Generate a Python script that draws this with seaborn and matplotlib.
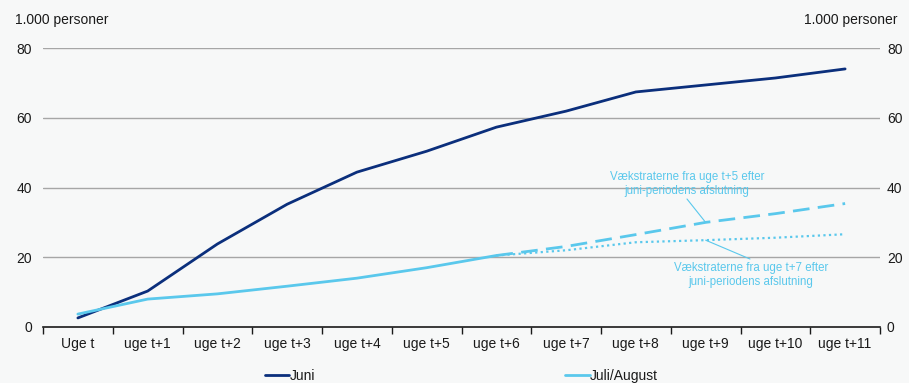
import matplotlib
matplotlib.use("Agg")
import matplotlib.pyplot as plt
import seaborn as sns
import pandas as pd
import numpy as np

categories = ["Uge t", "uge t+1", "uge t+2", "uge t+3", "uge t+4", "uge t+5",
              "uge t+6", "uge t+7", "uge t+8", "uge t+9", "uge t+10", "uge t+11"]
juni = [2.6, 10.3, 23.8, 35.2, 44.4, 50.4, 57.3, 61.9, 67.4, 69.4, 71.4, 74.0]
juli_aug = [3.7, 8.0, 9.5, 11.7, 14.0, 17.0, 20.5]
proj_t5 = [20.5, 23.1, 26.5, 30.0, 32.5, 35.4]   # from uge t+6
proj_t7 = [20.5, 22.0, 24.3, 24.9, 25.6, 26.6]   # from uge t+6
y_ticks = [0, 20, 40, 60, 80]

navy = "#0b2f7c"
light = "#5ac8ec"
bg = "#f7f8f8"
txt = "#1a1a1a"

sns.set_theme(style="white")
plt.rcParams["font.family"] = ["Liberation Sans", "DejaVu Sans"]

W, H = 909, 383
fig = plt.figure(figsize=(W / 100, H / 100), dpi=100, facecolor=bg)
ax = fig.add_axes([43 / W, 1 - 327 / H, (880 - 43) / W, (327 - 48) / H])
ax.set_facecolor(bg)

x_all = list(range(len(categories)))
df_j = pd.DataFrame({"x": x_all, "y": juni})
df_a = pd.DataFrame({"x": x_all[:len(juli_aug)], "y": juli_aug})
df_p5 = pd.DataFrame({"x": x_all[6:6 + len(proj_t5)], "y": proj_t5})
df_p7 = pd.DataFrame({"x": x_all[6:6 + len(proj_t7)], "y": proj_t7})

for v in y_ticks[1:]:
    ax.axhline(v, color="#a6a6a6", lw=1.0, zorder=0)

sns.lineplot(data=df_j, x="x", y="y", ax=ax, color=navy, lw=2.0, label="Juni")
sns.lineplot(data=df_a, x="x", y="y", ax=ax, color=light, lw=2.0, label="Juli/August")
sns.lineplot(data=df_p5, x="x", y="y", ax=ax, color=light, lw=2.0,
             linestyle=(0, (6, 3)), legend=False)
sns.lineplot(data=df_p7, x="x", y="y", ax=ax, color=light, lw=1.6,
             linestyle=(0, (1, 1.5)), legend=False)

ax.set_xlim(-0.5, len(categories) - 0.5)
ax.set_ylim(0, 80)
ax.set_yticks(y_ticks)
ax.set_xticks(x_all)
ax.set_xticklabels(categories)
ax.set_xticks(np.arange(-0.5, len(categories), 1.0), minor=True)
ax.tick_params(axis="x", which="major", length=0, labelsize=10, pad=7.5, colors=txt)
ax.tick_params(axis="x", which="minor", length=5, width=1, color=txt, direction="out", bottom=True)
ax.tick_params(axis="y", length=0, labelsize=10, pad=8, colors=txt)
ax.set_xlabel("")
ax.set_ylabel("")
for s in ["top", "left", "right"]:
    ax.spines[s].set_visible(False)
ax.spines["bottom"].set_color(txt)
ax.spines["bottom"].set_linewidth(1.2)

ax2 = ax.twinx()
ax2.set_ylim(0, 80)
ax2.set_yticks(y_ticks)
ax2.tick_params(axis="y", length=0, labelsize=10, pad=5, colors=txt)
for s in ["top", "left", "right", "bottom"]:
    ax2.spines[s].set_visible(False)
ax2.grid(False)

fig.text(15 / W, 1 - 20 / H, "1.000 personer", fontsize=10, ha="left", va="center", color=txt)
fig.text(897 / W, 1 - 20 / H, "1.000 personer", fontsize=10, ha="right", va="center", color=txt)

fig.text(687 / W, 1 - 184 / H, "Vækstraterne fra uge t+5 efter\njuni-periodens afslutning",
         ha="center", va="center", fontsize=8.3, color=light, linespacing=1.2)
ax.annotate("", xy=(9, proj_t5[3]), xytext=(687 / W, 1 - 199 / H), textcoords="figure fraction",
            arrowprops=dict(arrowstyle="-", color=light, lw=0.8, shrinkA=0, shrinkB=0))
fig.text(751 / W, 1 - 275 / H, "Vækstraterne fra uge t+7 efter\njuni-periodens afslutning",
         ha="center", va="center", fontsize=8.3, color=light, linespacing=1.2)
ax.annotate("", xy=(9, proj_t7[3]), xytext=(750 / W, 1 - 259 / H), textcoords="figure fraction",
            arrowprops=dict(arrowstyle="-", color=light, lw=0.8, shrinkA=0, shrinkB=0))

leg = ax.legend(loc="center", bbox_to_anchor=(0.5, -0.175), ncol=2, frameon=False,
                fontsize=10, handlelength=1.75, handletextpad=0.05, columnspacing=18)
for t in leg.get_texts():
    t.set_color(txt)

fig.savefig("out.png", dpi=100, facecolor=bg)
